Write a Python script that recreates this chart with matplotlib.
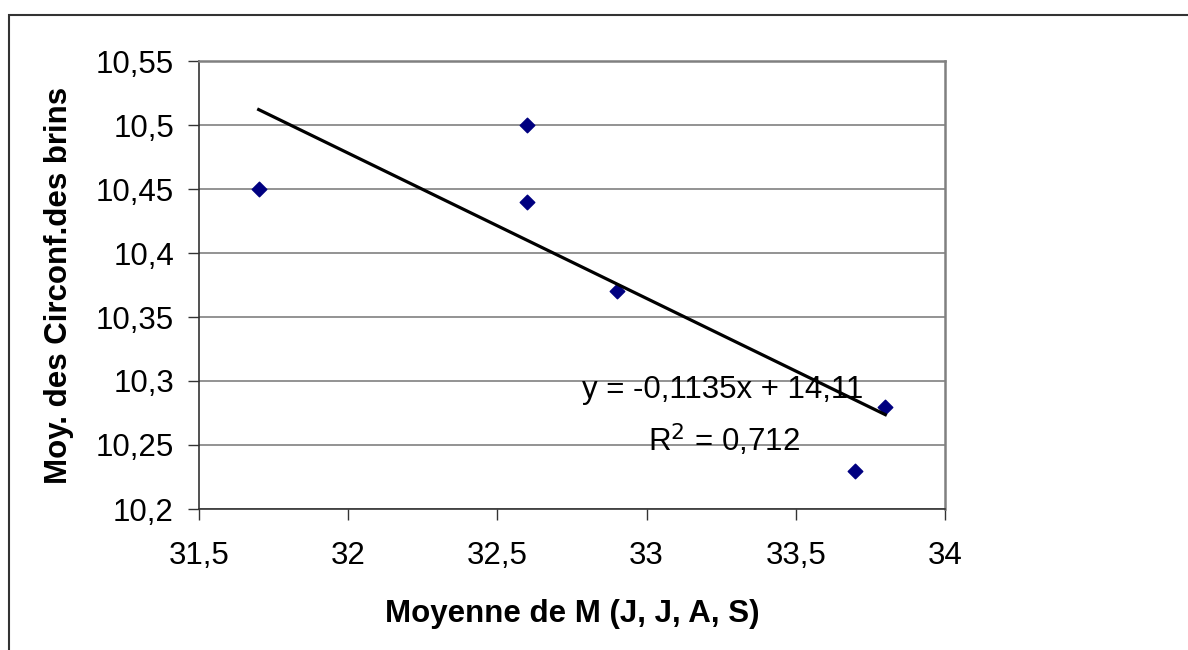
import matplotlib.pyplot as plt
import numpy as np
from matplotlib.patches import Rectangle

plt.rcParams['font.family'] = ['Liberation Sans', 'DejaVu Sans']

# data
moy_m = [31.7, 32.6, 32.6, 32.9, 33.7, 33.8]
moy_circ = [10.45, 10.50, 10.44, 10.37, 10.23, 10.28]
slope = -0.1135
intercept = 14.11
r2 = 0.712

x_ticks = [31.5, 32, 32.5, 33, 33.5, 34]
y_ticks = [10.2, 10.25, 10.3, 10.35, 10.4, 10.45, 10.5, 10.55]


def fr(v):
    """French decimal comma."""
    return f"{v:g}".replace(".", ",")


W, H = 1188, 650
fig = plt.figure(figsize=(W / 100, H / 100), dpi=100)

# outer chart border (runs past right and bottom edges of picture)
fig.patches.append(Rectangle((9 / W, -0.1), 1.2, 1 - 15 / H + 0.1,
                             transform=fig.transFigure, fill=False,
                             edgecolor='#333333', linewidth=1.5))

ax = fig.add_axes([199 / W, 1 - 509 / H, (945 - 199) / W, (509 - 61) / H])

ax.set_xlim(31.5, 34)
ax.set_ylim(10.2, 10.55)
ax.set_xticks(x_ticks)
ax.set_yticks(y_ticks)
ax.set_xticklabels([fr(v) for v in x_ticks])
ax.set_yticklabels([fr(v) for v in y_ticks])
ax.tick_params(labelsize=22.5, length=8, width=1, color='#333333')
ax.tick_params(axis='y', pad=10)
ax.tick_params(axis='x', pad=15)

ax.grid(axis='y', color='#808080', linewidth=1.2)
ax.set_axisbelow(True)
for side in ['left', 'bottom']:
    ax.spines[side].set_color('#333333')
    ax.spines[side].set_linewidth(1.2)
for side in ['right', 'top']:
    ax.spines[side].set_color('#808080')
    ax.spines[side].set_linewidth(1.8)

ax.scatter(moy_m, moy_circ, marker='D', s=55, color='#000080', zorder=3)

# linear trendline over data range
xs = np.array([min(moy_m), max(moy_m)])
ax.plot(xs, slope * xs + intercept, color='black', linewidth=2.3, zorder=4)

eq = f"y = {fr(slope)}x + {fr(intercept)}"
ax.text(33.256, 10.293, eq, fontsize=22.5, ha='center', va='center', zorder=5)
ax.text(33.26, 10.254, f"R$^2$ = {fr(r2)}", fontsize=22.5, ha='center', va='center', zorder=5)

ax.set_xlabel("Moyenne de M (J, J, A, S)", fontsize=22.5, fontweight='bold', labelpad=20)
ax.set_ylabel("Moy. des Circonf.des brins", fontsize=22.5, fontweight='bold', labelpad=16)

fig.savefig("out.png", dpi=100)
